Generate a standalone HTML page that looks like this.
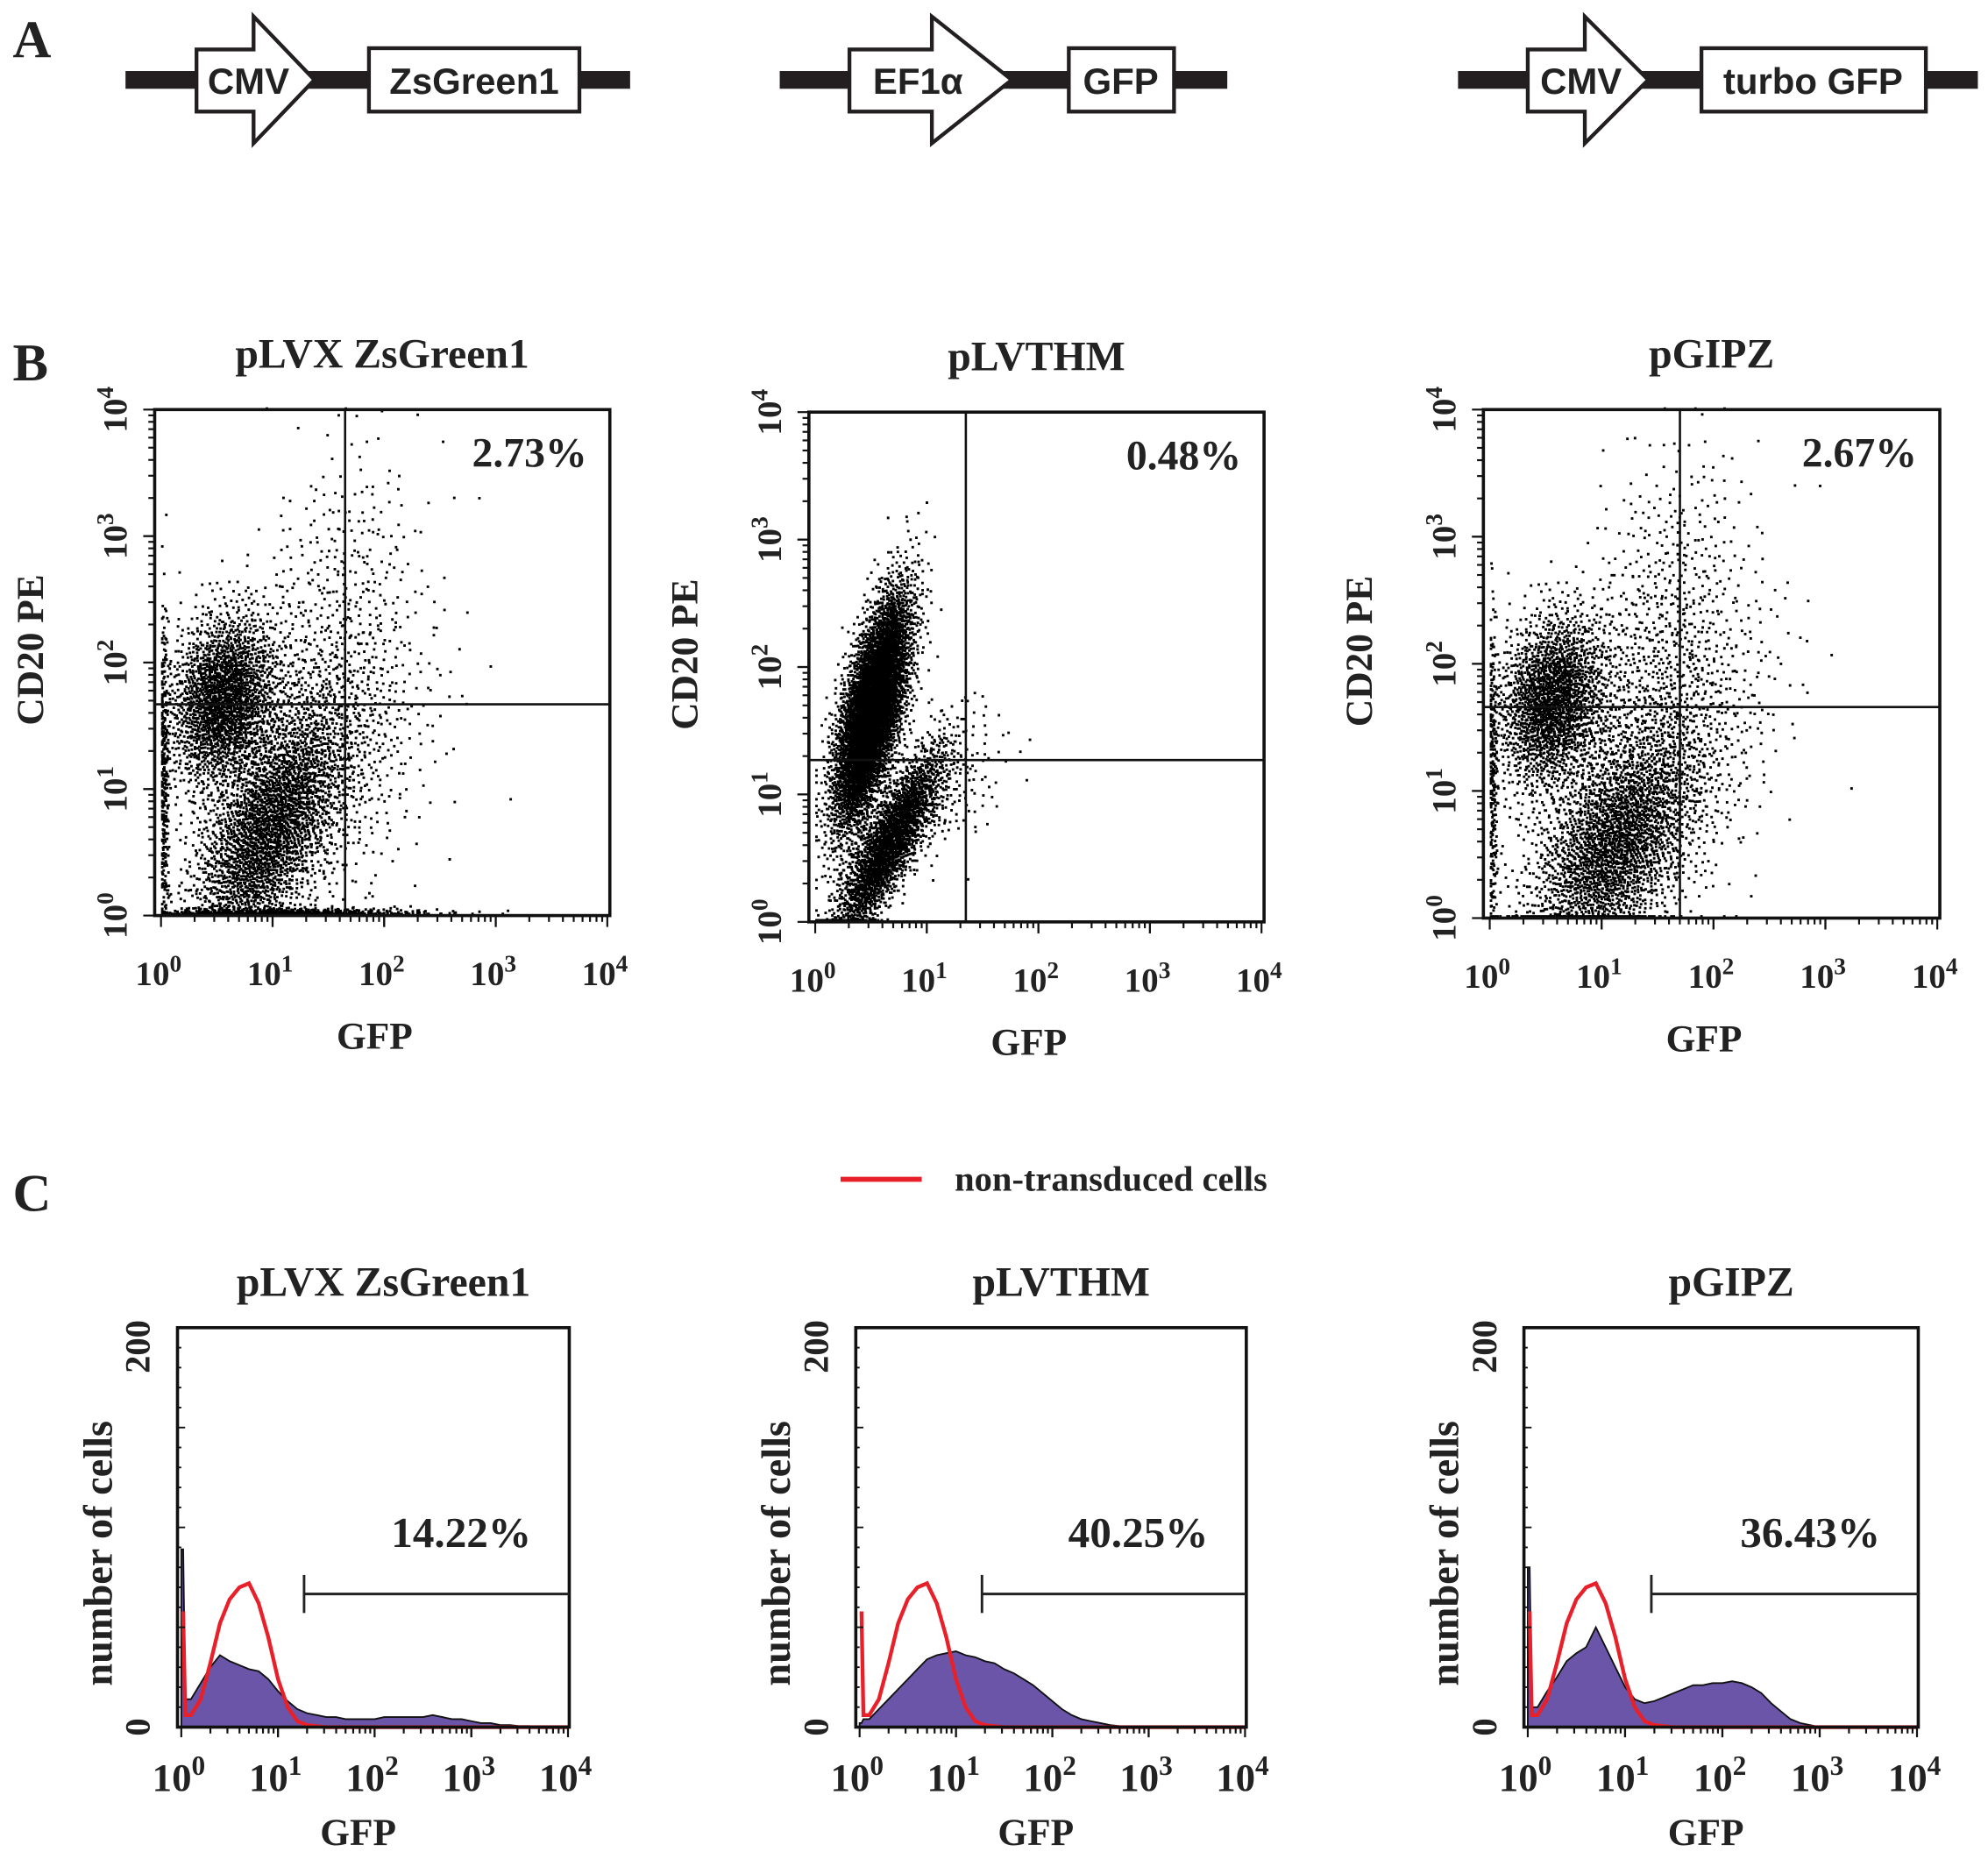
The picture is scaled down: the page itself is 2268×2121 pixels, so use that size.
<!DOCTYPE html>
<html><head><meta charset="utf-8"><style>
html,body{margin:0;padding:0;background:#fff;}
svg{display:block;}
.ser{font-family:"Liberation Serif",serif;font-weight:bold;fill:#222;}
.san{font-family:"Liberation Sans",sans-serif;font-weight:bold;fill:#222;}
</style></head><body>
<svg id="fig" width="2268" height="2121" viewBox="0 0 1568 1466" preserveAspectRatio="none" xmlns="http://www.w3.org/2000/svg">
<rect x="0" y="0" width="1568" height="1466" fill="#fff"/>
<g>
<text class="ser" x="10" y="45" font-size="42" fill="#111">A</text>
<g>
<rect x="99" y="56" width="398" height="14" fill="#231f20"/>
<polygon points="155,39 200,39 200,13 248,63 200,113 200,88 155,88" fill="#fff" stroke="#231f20" stroke-width="3"/>
<text class="san" x="196" y="74" font-size="29" text-anchor="middle">CMV</text>
<rect x="291" y="38" width="166" height="50" fill="#fff" stroke="#231f20" stroke-width="3"/>
<text class="san" x="374" y="74" font-size="29" text-anchor="middle">ZsGreen1</text>
</g>
<g>
<rect x="615" y="56" width="353" height="14" fill="#231f20"/>
<polygon points="670,39 735,39 735,13 798,63 735,113 735,88 670,88" fill="#fff" stroke="#231f20" stroke-width="3"/>
<text class="san" x="724" y="74" font-size="29" text-anchor="middle">EF1α</text>
<rect x="843" y="38" width="83" height="50" fill="#fff" stroke="#231f20" stroke-width="3"/>
<text class="san" x="884" y="74" font-size="29" text-anchor="middle">GFP</text>
</g>
<g>
<rect x="1150" y="56" width="410" height="14" fill="#231f20"/>
<polygon points="1205,39 1250,39 1250,13 1300,63 1250,113 1250,88 1205,88" fill="#fff" stroke="#231f20" stroke-width="3"/>
<text class="san" x="1247" y="74" font-size="29" text-anchor="middle">CMV</text>
<rect x="1342" y="38" width="177" height="50" fill="#fff" stroke="#231f20" stroke-width="3"/>
<text class="san" x="1430" y="74" font-size="29" text-anchor="middle">turbo GFP</text>
</g>
</g>
<text class="ser" x="10" y="300" font-size="42" fill="#111">B</text>
<text class="ser" x="10" y="955" font-size="42" fill="#111">C</text>
<g>
<line x1="663" y1="930" x2="727" y2="930" stroke="#e8202a" stroke-width="4"/>
<text class="ser" x="753" y="939" font-size="28">non-transduced cells</text>
</g>
<g id="scatters"></g>
<g id="hists"></g>
</svg>
<script>
// ---------- data: scatter panels (cluster parameters in log decades) ----------
const scatterTitles = ["pLVX ZsGreen1","pLVTHM","pGIPZ"];
const scatterPercents = ["2.73%","0.48%","2.67%"];
const gateX = [1.65, 1.35, 1.7];
const gateY = [1.67, 1.27, 1.66];
// clusters: [cx, cy, sx, sy, corr, n]
const clustersB1 = [[0.55,1.7,0.25,0.35,0.2,2000],[0.95,0.65,0.35,0.5,0.6,2600],[1.4,1.3,0.5,0.65,0.3,1000],[1.1,0.01,0.65,0.02,0,600],[1.6,2.6,0.35,0.6,0.2,250],[0.02,1.0,0.02,0.7,0,300]];
const clustersB2 = [[0.5,1.65,0.17,0.45,0.65,5500],[0.65,0.6,0.25,0.38,0.85,2200],[1.1,1.0,0.3,0.3,0.5,200]];
const clustersB3 = [[0.55,1.7,0.25,0.35,0.2,1900],[1.1,0.55,0.38,0.45,0.5,2400],[1.5,1.4,0.5,0.65,0.3,1100],[1.6,2.6,0.35,0.6,0.2,300],[0.02,1.0,0.02,0.7,0,250]];
// ---------- data: histograms (counts at log10 GFP = 0,0.1,...,4.0) ----------
const histTitles = ["pLVX ZsGreen1","pLVTHM","pGIPZ"];
const histPercents = ["14.22%","40.25%","36.43%"];
const histGate = [1.27, 1.27, 1.27];
const transducedC1 = [89,14,22,30,36,33,31,29,28,24,18,13,9,7,6,5,5,4,4,4,4,5,5,5,5,5,6,5,4,4,3,2,2,1,1,0.5,0.5,0,0,0,0];
const transducedC2 = [2,4,9,14,19,24,29,34,36,37,38,36,35,33,32,29,27,24,21,17,13,9,6,4,3,2,1,0.5,0,0,0,0,0,0,0,0,0,0,0,0,0];
const transducedC3 = [80,10,18,25,33,37,40,50,40,30,20,14,12,13,15,17,19,21,21,22,22,23,22,20,17,12,8,4,2,1,0,0,0,0,0,0,0,0,0,0,0];
const controlC = [57,6,14,32,52,64,70,72,62,45,24,10,3,1,0.5,0,0,0,0,0,0,0,0,0,0,0,0,0,0,0,0,0,0,0,0,0,0,0,0,0,0];
const histCount = 200;

const NS="http://www.w3.org/2000/svg";
function el(tag,attrs,parent){const e=document.createElementNS(NS,tag);for(const k in attrs)e.setAttribute(k,attrs[k]);if(parent)parent.appendChild(e);return e;}
function halton(i,b){let f=1,r=0;while(i>0){f/=b;r+=f*(i%b);i=Math.floor(i/b);}return r;}
function pow10Label(g,x,y,exp,fs,rot){
  const t=el('text',{x:x,y:y,'font-size':fs,'text-anchor':'middle',class:'ser'},g);
  if(rot) t.setAttribute('transform',`rotate(-90 ${x} ${y})`);
  t.textContent='10';
  const s=el('tspan',{dy:-fs*0.4,'font-size':fs*0.7},t); s.textContent=exp;
  return t;
}

const sFrames=[[122,323,481,722],[638,325,997,727],[1170,323,1530,724]];
const allClusters=[clustersB1,clustersB2,clustersB3];
const sc=document.getElementById('scatters');
sFrames.forEach((f,p)=>{
  const [x0,y0,x1,y1]=f;
  const g=el('g',{},sc);
  
  
  const xs=v=>x0+5+(x1-x0-7)*v/4;
  const ys=v=>y1-(y1-y0)*v/4;
  const cx=(x0+x1)/2;
  const title=el('text',{x:cx,y:y0-33,'font-size':33,'text-anchor':'middle',class:'ser'},g);
  
  
  title.textContent=scatterTitles[p];
  let d='';let idx=1;
  allClusters[p].forEach(c=>{
    const [mx,my,sx,sy,r,n]=c;
    for(let i=0;i<n;i++,idx++){
      const u1=Math.max(halton(idx,2),1e-6),u2=halton(idx,3);
      const R=Math.sqrt(-2*Math.log(u1));
      const z1=R*Math.cos(2*Math.PI*u2),z2=R*Math.sin(2*Math.PI*u2);
      let lx=mx+sx*z1, ly=my+sy*(r*z1+Math.sqrt(1-r*r)*z2);
      lx=Math.max(0,Math.min(4,lx)); ly=Math.max(0.005,Math.min(4,ly));
      d+=`M${xs(lx).toFixed(1)} ${(ys(ly)-1.8).toFixed(1)}h2v2h-2z`;
    }
  });
  const pts=el('path',{d:d,fill:'#000'},g);
  
  
  el('rect',{x:x0,y:y0,width:x1-x0,height:y1-y0,fill:'none',stroke:'#111','stroke-width':2.5},g);
  el('line',{x1:xs(gateX[p]),y1:y0,x2:xs(gateX[p]),y2:y1,stroke:'#111','stroke-width':1.8},g);
  el('line',{x1:x0,y1:ys(gateY[p]),x2:x1,y2:ys(gateY[p]),stroke:'#111','stroke-width':1.8},g);
  const pc=el('text',{x:x1-18,y:y0+45,'font-size':33,'text-anchor':'end',class:'ser'},g);
  
  
  pc.textContent=scatterPercents[p];
  for(let dec=0;dec<4;dec++)for(let k=1;k<=10;k++){
    const v=dec+Math.log10(k); const L=(k===1||k===10)?9:5;
    el('line',{x1:xs(v),y1:y1,x2:xs(v),y2:y1+L,stroke:'#111','stroke-width':1.5},g);
    el('line',{x1:x0,y1:ys(v),x2:x0-L,y2:ys(v),stroke:'#111','stroke-width':1.5},g);
  }
  for(let e=0;e<=4;e++){
    pow10Label(g,xs(e)-2,y1+55,e,27,false);
    pow10Label(g,x0-22,ys(e),e,27,true);
  }
  const xl=el('text',{x:cx-6,y:y1+105,'font-size':30,'text-anchor':'middle',class:'ser'},g);
  
  
  xl.textContent='GFP';
  const yx=x0-88, yy=(y0+y1)/2-10;
  const yl=el('text',{x:yx,y:yy,'font-size':30,'text-anchor':'middle',class:'ser',transform:`rotate(-90 ${yx} ${yy})`},g);
  
  
  yl.textContent='CD20 PE';
});

const hFrames=[[140,1047,449,1362],[675,1047,983,1362],[1202,1047,1513,1362]];
const allHist=[transducedC1,transducedC2,transducedC3];
const hc=document.getElementById('hists');
hFrames.forEach((f,p)=>{
  const [x0,y0,x1,y1]=f;
  const g=el('g',{},hc);
  
  
  const xs=v=>x0+3+(x1-x0-4)*v/4;
  const ys=c=>y1-(y1-y0)*c/histCount;
  const cx=(x0+x1)/2;
  const t=el('text',{x:cx+8,y:y0-25,'font-size':33,'text-anchor':'middle',class:'ser'},g);
  
  
  t.textContent=histTitles[p];
  const data=allHist[p];
  let d=`M${xs(0)} ${ys(0)}`;
  data.forEach((c,i)=>{d+=` L${xs(i*0.1).toFixed(1)} ${ys(c).toFixed(1)}`; if(i===0) d+=` L${xs(0.02).toFixed(1)} ${ys(c).toFixed(1)} L${xs(0.04).toFixed(1)} ${ys(data[1]).toFixed(1)}`;});
  d+=` L${xs(4)} ${ys(0)} Z`;
  const area=el('path',{d:d,fill:'#6a55a8',stroke:'#111','stroke-width':1.3},g);
  
  
  let r='';
  controlC.forEach((c,i)=>{r+=(i?' L':'M')+`${xs(i*0.1).toFixed(1)} ${ys(c).toFixed(1)}`; if(i===0) r+=` L${xs(0.02).toFixed(1)} ${ys(c).toFixed(1)} L${xs(0.04).toFixed(1)} ${ys(controlC[1]).toFixed(1)}`;});
  const ctl=el('path',{d:r,fill:'none',stroke:'#e8202a','stroke-width':3},g);
  
  
  el('rect',{x:x0,y:y0,width:x1-x0,height:y1-y0,fill:'none',stroke:'#111','stroke-width':2.5},g);
  const gx=xs(histGate[p]), gy=1257;
  el('line',{x1:gx,y1:gy-15,x2:gx,y2:gy+15,stroke:'#222','stroke-width':2},g);
  el('line',{x1:gx,y1:gy,x2:x1,y2:gy,stroke:'#222','stroke-width':2},g);
  const pc=el('text',{x:x1-30,y:1220,'font-size':34,'text-anchor':'end',class:'ser'},g);
  
  
  pc.textContent=histPercents[p];
  for(let dec=0;dec<4;dec++)for(let k=1;k<=10;k++){
    const v=dec+Math.log10(k); const L=(k===1||k===10)?8:5;
    el('line',{x1:xs(v),y1:y1,x2:xs(v),y2:y1+L,stroke:'#111','stroke-width':1.5},g);
  }
  for(let c=0;c<=200;c+=10){const L=(c%50===0)?6:3;el('line',{x1:x0,y1:ys(c),x2:x0+L,y2:ys(c),stroke:'#111','stroke-width':1.3},g);}
  for(let e=0;e<=4;e++) pow10Label(g,xs(e)-2,y1+50,e,31,false);
  const a=el('text',{x:x0-22,y:y0+15,'font-size':28,'text-anchor':'middle',class:'ser',transform:`rotate(-90 ${x0-22} ${y0+15})`},g); a.textContent='200';
  const b=el('text',{x:x0-22,y:y1,'font-size':28,'text-anchor':'middle',class:'ser',transform:`rotate(-90 ${x0-22} ${y1})`},g); b.textContent='0';
  const yx=x0-52, yy=1225;
  const yl=el('text',{x:yx,y:yy,'font-size':32,'text-anchor':'middle',class:'ser',transform:`rotate(-90 ${yx} ${yy})`},g);
  
  
  yl.textContent='number of cells';
  const xl=el('text',{x:cx-12,y:1455,'font-size':30,'text-anchor':'middle',class:'ser'},g);
  
  
  xl.textContent='GFP';
});
</script>
</body></html>
